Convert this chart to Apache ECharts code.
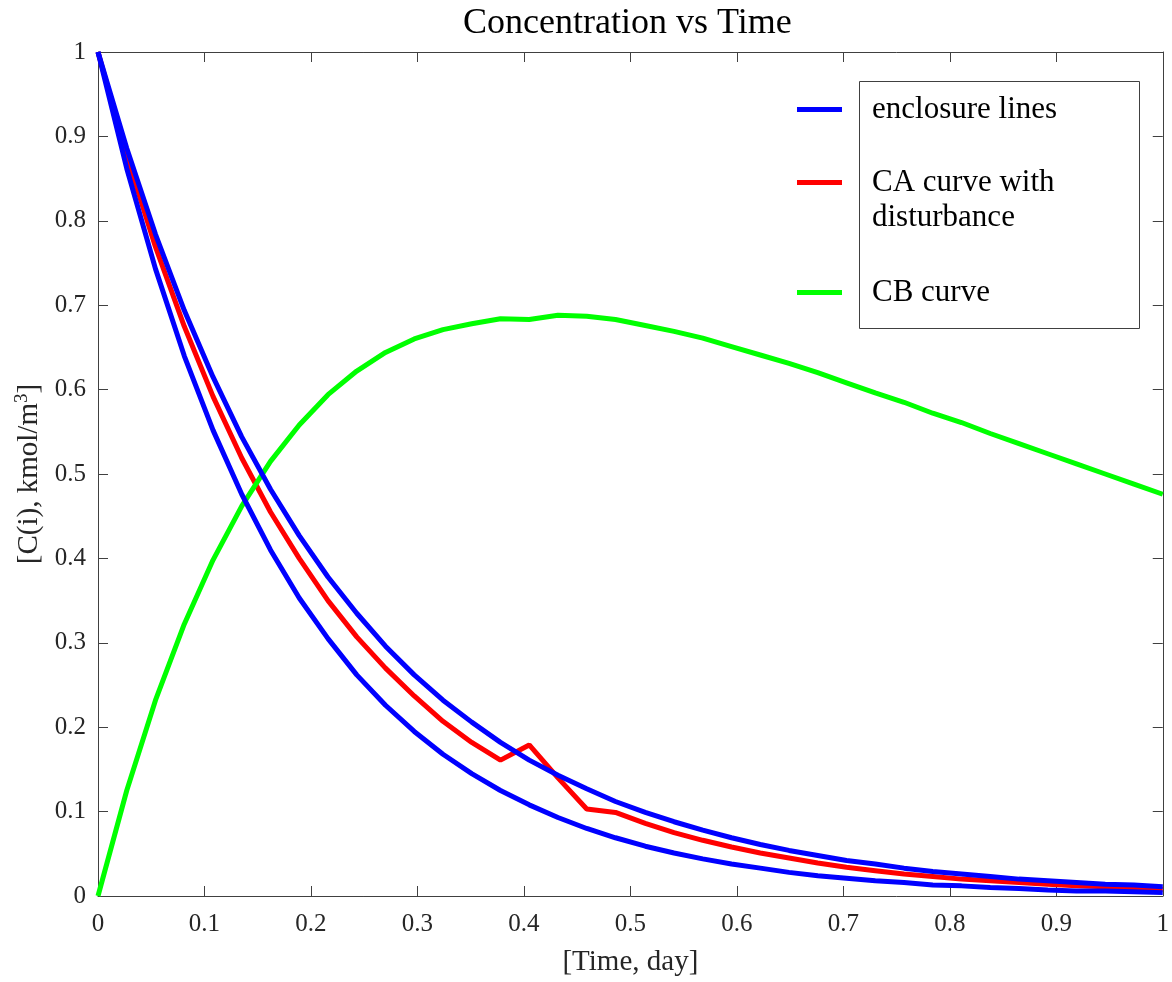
<!DOCTYPE html>
<html>
<head>
<meta charset="utf-8">
<title>Concentration vs Time</title>
<script src="https://cdn.jsdelivr.net/npm/echarts@6/dist/echarts.min.js"></script>
<style>
  html, body { margin: 0; padding: 0; background: #ffffff; }
  #chart { width: 1172px; height: 982px; }
</style>
</head>
<body>
<div id="chart"></div>
<script>
// Sample times [day]
const time = [0, 0.027, 0.054, 0.081, 0.108, 0.135, 0.162, 0.189, 0.216, 0.243,
  0.270, 0.297, 0.324, 0.351, 0.378, 0.405, 0.432, 0.459, 0.486, 0.514,
  0.541, 0.568, 0.595, 0.622, 0.649, 0.676, 0.703, 0.730, 0.757, 0.784,
  0.811, 0.838, 0.865, 0.892, 0.919, 0.946, 0.973, 1];

// Upper and lower enclosure of CA
const enclosureUpper = [1, 0.886, 0.784, 0.694, 0.615, 0.544, 0.482, 0.427, 0.378, 0.335,
  0.296, 0.262, 0.232, 0.206, 0.182, 0.161, 0.143, 0.127, 0.112, 0.099,
  0.088, 0.078, 0.069, 0.061, 0.054, 0.048, 0.042, 0.038, 0.033, 0.029,
  0.026, 0.023, 0.020, 0.018, 0.016, 0.014, 0.013, 0.011];
const enclosureLower = [1, 0.862, 0.743, 0.640, 0.552, 0.476, 0.410, 0.353, 0.305, 0.262,
  0.226, 0.195, 0.168, 0.145, 0.125, 0.108, 0.093, 0.080, 0.069, 0.059,
  0.051, 0.044, 0.038, 0.033, 0.028, 0.024, 0.021, 0.018, 0.016, 0.013,
  0.012, 0.010, 0.009, 0.007, 0.006, 0.006, 0.005, 0.004];

// CA with a disturbance around t = 0.4 day
const caValues = [1, 0.877, 0.769, 0.675, 0.592, 0.519, 0.455, 0.400, 0.350, 0.307,
  0.270, 0.237, 0.207, 0.182, 0.161, 0.179, 0.140, 0.103, 0.099, 0.086,
  0.075, 0.066, 0.058, 0.051, 0.045, 0.039, 0.034, 0.030, 0.026, 0.023,
  0.020, 0.018, 0.016, 0.014, 0.012, 0.011, 0.009, 0.008];

// CB
const cbValues = [0, 0.125, 0.232, 0.322, 0.398, 0.462, 0.515, 0.558, 0.594, 0.622,
  0.644, 0.660, 0.671, 0.678, 0.684, 0.683, 0.688, 0.687, 0.683, 0.676,
  0.669, 0.661, 0.651, 0.641, 0.631, 0.620, 0.608, 0.596, 0.585, 0.572,
  0.561, 0.548, 0.536, 0.524, 0.512, 0.500, 0.488, 0.476];

const seriesNames = ['enclosure lines', 'CA curve with disturbance', 'CB curve'];

const SERIF = '"Liberation Serif", "Times New Roman", serif';
const AXIS_COLOR = '#404040';
const TEXT_COLOR = '#262626';

const pairs = vals => time.map((t, i) => [t, vals[i]]);

const lineSeries = (name, vals, color) => ({
  name: name,
  type: 'line',
  xAxisIndex: 0,
  yAxisIndex: 0,
  data: pairs(vals),
  showSymbol: false,
  symbol: 'none',
  clip: false,
  animation: false,
  lineStyle: { color: color, width: 5 },
  itemStyle: { color: color }
});

const legendBase = {
  orient: 'vertical',
  left: 797,
  padding: 0,
  icon: 'rect',
  itemWidth: 45,
  itemHeight: 5,
  selectedMode: false,
  textStyle: {
    fontFamily: SERIF,
    fontSize: 31,
    color: '#000000',
    lineHeight: 35,
    padding: [0, 0, 0, 25]
  }
};

const chart = echarts.init(document.getElementById('chart'), null, { renderer: 'canvas' });

chart.setOption({
  backgroundColor: '#ffffff',
  animation: false,
  title: {
    text: 'Concentration vs Time',
    left: 463,
    top: 6,
    padding: 0,
    textStyle: { fontFamily: SERIF, fontSize: 36, fontWeight: 'normal', color: '#000000' }
  },
  grid: { left: 98, right: 8, top: 52, bottom: 79, containLabel: false },
  legend: [
    Object.assign({}, legendBase, { top: 92, data: [seriesNames[0]] }),
    // the leading blank line keeps the key beside the first text line
    Object.assign({}, legendBase, {
      top: 130,
      data: [seriesNames[1]],
      formatter: () => '\nCA curve with\ndisturbance'
    }),
    Object.assign({}, legendBase, { top: 275, data: [seriesNames[2]] })
  ],
  xAxis: [
    {
      type: 'value', min: 0, max: 1, interval: 0.1, position: 'bottom',
      name: '[Time, day]', nameLocation: 'middle', nameGap: 52,
      nameTextStyle: { fontFamily: SERIF, fontSize: 29, color: TEXT_COLOR },
      axisLine: { show: true, onZero: false, lineStyle: { color: AXIS_COLOR, width: 1 } },
      axisTick: { show: true, inside: true, length: 10, lineStyle: { color: AXIS_COLOR } },
      axisLabel: { fontFamily: SERIF, fontSize: 25, color: TEXT_COLOR, margin: 16 },
      splitLine: { show: false }
    },
    {
      type: 'value', min: 0, max: 1, interval: 0.1, position: 'top',
      axisLine: { show: true, onZero: false, lineStyle: { color: AXIS_COLOR, width: 1 } },
      axisTick: { show: true, inside: true, length: 10, lineStyle: { color: AXIS_COLOR } },
      axisLabel: { show: false },
      splitLine: { show: false }
    }
  ],
  yAxis: [
    {
      type: 'value', min: 0, max: 1, interval: 0.1, position: 'left',
      name: '{n|[C(i), kmol/m}{s|3}{n|]}', nameLocation: 'middle', nameGap: 50,
      nameTextStyle: {
        fontFamily: SERIF, fontSize: 29, color: TEXT_COLOR,
        rich: {
          n: { fontFamily: SERIF, fontSize: 29, color: TEXT_COLOR, lineHeight: 34 },
          s: { fontFamily: SERIF, fontSize: 19, color: TEXT_COLOR, verticalAlign: 'top', lineHeight: 34 }
        }
      },
      axisLine: { show: true, onZero: false, lineStyle: { color: AXIS_COLOR, width: 1 } },
      axisTick: { show: true, inside: true, length: 10, lineStyle: { color: AXIS_COLOR } },
      axisLabel: { fontFamily: SERIF, fontSize: 25, color: TEXT_COLOR, margin: 12 },
      splitLine: { show: false }
    },
    {
      type: 'value', min: 0, max: 1, interval: 0.1, position: 'right',
      axisLine: { show: true, onZero: false, lineStyle: { color: AXIS_COLOR, width: 1 } },
      axisTick: { show: true, inside: true, length: 10, lineStyle: { color: AXIS_COLOR } },
      axisLabel: { show: false },
      splitLine: { show: false }
    }
  ],
  graphic: [
    {
      type: 'rect',
      shape: { x: 859.5, y: 81.5, width: 280, height: 247 },
      style: { fill: '#ffffff', stroke: AXIS_COLOR, lineWidth: 1 },
      z: 0
    }
  ],
  series: [
    lineSeries(seriesNames[1], caValues, '#ff0000'),
    lineSeries(seriesNames[2], cbValues, '#00ff00'),
    lineSeries(seriesNames[0], enclosureUpper, '#0000ff'),
    lineSeries(seriesNames[0], enclosureLower, '#0000ff')
  ]
});
</script>
</body>
</html>
